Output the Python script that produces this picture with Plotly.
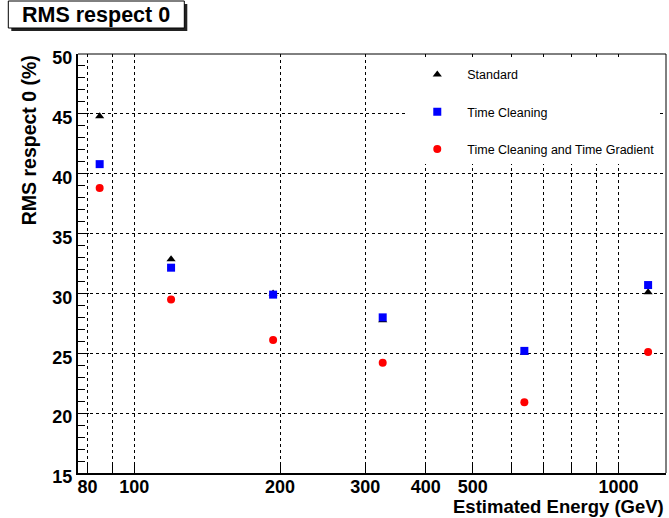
import math
import plotly.graph_objects as go

# ---- data ----
energy = [84.8, 119.1, 193.5, 325.9, 639.3, 1151.7]
standard = [44.8, 32.85, 30.0, 27.75, 25.05, 30.1]
time_cleaning = [40.8, 32.15, 29.9, 28.0, 25.2, 30.7]
time_cleaning_gradient = [38.8, 29.5, 26.1, 24.2, 20.9, 25.1]

series_names = ["Standard", "Time Cleaning", "Time Cleaning and Time Gradient"]

x_tickvals = [80, 90, 100, 200, 300, 400, 500, 600, 700, 800, 900, 1000]
x_ticktext = ["80", "", "100", "200", "300", "400", "500", "", "", "", "", "1000"]
y_tickvals = [15, 20, 25, 30, 35, 40, 45, 50]

x_range = [76.5, 1254]
y_range = [15, 50]

FONT = "Liberation Sans, Arial, Helvetica, sans-serif"

fig = go.Figure()
fig.add_trace(go.Scatter(
    x=energy, y=standard, mode="markers", name=series_names[0], legendgroup="a",
    marker=dict(symbol="triangle-up", size=8, color="black", line=dict(width=0)),
))
fig.add_trace(go.Scatter(
    x=energy, y=time_cleaning, mode="markers", name=series_names[1], legendgroup="b",
    marker=dict(symbol="square", size=8, color="#0000ff", line=dict(width=0)),
))
fig.add_trace(go.Scatter(
    x=energy, y=time_cleaning_gradient, mode="markers", name=series_names[2], legendgroup="c",
    marker=dict(symbol="circle", size=8, color="#ff0000", line=dict(width=0)),
))

axis_common = dict(
    showgrid=True, gridcolor="black", gridwidth=1, griddash="dot",
    ticks="inside", tickcolor="black", tickwidth=1,
    showline=True, linecolor="black", linewidth=2, mirror=False,
    zeroline=False,
    tickfont=dict(family=FONT, size=18, color="black", weight="bold"),
)

fig.update_xaxes(
    type="log",
    range=[math.log10(x_range[0]), math.log10(x_range[1])],
    tickmode="array", tickvals=x_tickvals, ticktext=x_ticktext,
    ticklen=8,
    ticklabelstandoff=-4,
    **axis_common,
)
fig.update_yaxes(
    range=y_range,
    tickmode="array", tickvals=y_tickvals,
    ticklen=11,
    minor=dict(dtick=1, ticklen=7, tickcolor="black", showgrid=False, ticks="inside"),
    ticklabelshift=4,
    **axis_common,
)

shapes = [
    # top and right frame lines
    dict(type="line", xref="paper", yref="paper", x0=0, x1=1, y0=1, y1=1,
         line=dict(color="black", width=1)),
    dict(type="line", xref="paper", yref="paper", x0=1, x1=1, y0=0, y1=1,
         line=dict(color="black", width=1)),
    # title box shadow
    dict(type="rect", xref="paper", yref="paper", xsizemode="pixel", ysizemode="pixel",
         xanchor=0, yanchor=1, x0=-66.7, x1=109.3, y0=23, y1=50,
         fillcolor="#222222", line=dict(width=0)),
    # title box
    dict(type="rect", xref="paper", yref="paper", xsizemode="pixel", ysizemode="pixel",
         xanchor=0, yanchor=1, x0=-69.7, x1=106.3, y0=26, y1=53,
         fillcolor="white", line=dict(color="black", width=1)),
]

annotations = [
    dict(text="RMS respect 0", xref="paper", yref="paper", x=0, y=1,
         xshift=18.3, yshift=39.5, xanchor="center", yanchor="middle",
         showarrow=False, font=dict(family=FONT, size=21.5, color="black", weight="bold")),
    dict(text="RMS respect 0 (%)", xref="paper", yref="paper", x=0, y=1,
         xshift=-48.7, yshift=1, xanchor="center", yanchor="top", textangle=-90,
         showarrow=False, font=dict(family=FONT, size=19.5, color="black", weight="bold")),
    dict(text="Estimated Energy (GeV)", xref="paper", yref="paper", x=1, y=0,
         xshift=0, yshift=-33.5, xanchor="right", yanchor="middle",
         showarrow=False, font=dict(family=FONT, size=18.5, color="black", weight="bold")),
]

fig.update_layout(
    width=669, height=518,
    margin=dict(l=77.7, r=3, t=54.3, b=44.5, pad=0),
    paper_bgcolor="white", plot_bgcolor="white",
    shapes=shapes, annotations=annotations,
    showlegend=True,
    legend=dict(
        x=0.56, y=0.986, xanchor="left", yanchor="top",
        bgcolor="white", borderwidth=0,
        font=dict(family=FONT, size=12.5, color="black"),
        tracegroupgap=18, itemwidth=50,
    ),
)

fig.write_html("out.html", config={"displayModeBar": False})

# remove the browser's default page margin so the figure sits at (0, 0)
with open("out.html", "r", encoding="utf-8") as f:
    html = f.read()
html = html.replace("<body>", '<body style="margin:0;padding:0;">', 1)
with open("out.html", "w", encoding="utf-8") as f:
    f.write(html)
